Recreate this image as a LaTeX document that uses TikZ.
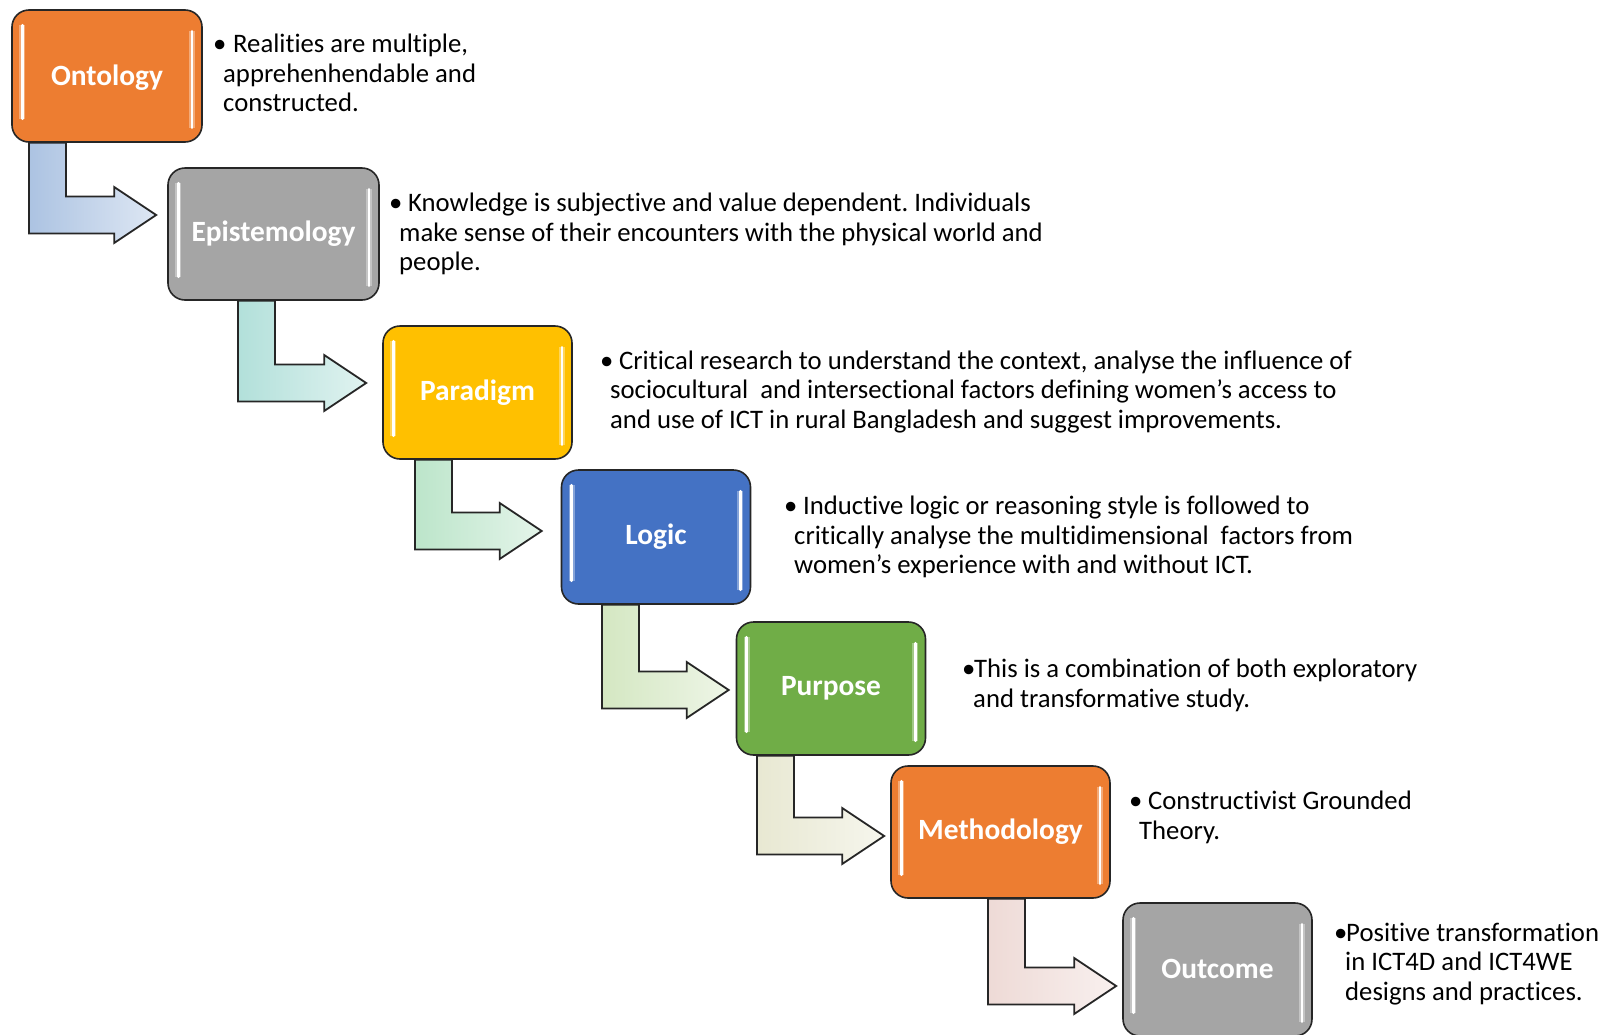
\documentclass[tikz,border=0pt]{standalone}
\usepackage{fontspec}
\setmainfont{Carlito}[Ligatures={TeX,NoCommon}]
\frenchspacing
\usetikzlibrary{calc}
\pgfdeclarelayer{bg}
\pgfsetlayers{bg,main}

\definecolor{boxorange}{HTML}{ED7D31}
\definecolor{boxgray}{HTML}{A5A5A5}
\definecolor{boxyellow}{HTML}{FFC000}
\definecolor{boxblue}{HTML}{4472C4}
\definecolor{boxgreen}{HTML}{70AD47}
\definecolor{flowA}{RGB}{172,195,226}
\definecolor{flowB}{RGB}{178,224,218}
\definecolor{flowC}{RGB}{188,229,202}
\definecolor{flowD}{RGB}{212,231,194}
\definecolor{flowE}{RGB}{232,232,210}
\definecolor{flowF}{RGB}{238,218,214}

\tikzset{
  stagebox/.style={draw=black!85, line width=1.6pt, rounded corners=17pt,
    inner sep=0pt, minimum width=189pt, minimum height=133pt, text=white,
    font=\fontsize{29.4}{34}\selectfont\bfseries},
  gloss/.style={white, line width=2.6pt, line cap=round,
    preaction={draw=white, line width=6pt, opacity=0.35}},
  flow/.style={draw=black!85, line width=1.8pt, line join=miter},
  note/.style={anchor=west, align=left, inner sep=0pt,
    font=\fontsize{26.7}{29.3}\selectfont, text=black},
}

% glassy highlight strips inside a stage box
\newcommand\shine[1]{%
  \draw[gloss] ([shift={(11,16)}]#1.north west) -- ([shift={(11,-24)}]#1.south west);
  \draw[gloss] ([shift={(-11,22)}]#1.north east) -- ([shift={(-11,-15)}]#1.south east);
}

% L-shaped arrow: source box, target box, shaft left x, bar centre y, gap before target, colour
\newcommand\stepflow[6]{%
  \coordinate (tip) at ($(#2.west |- 0,#4)+(-#5,0)$);
  \begin{pgfonlayer}{bg}
  \filldraw[flow, left color=#6, right color=#6!40!white]
    (#1.south -| #3,0) -- ++(37,0) -- (#3+37,#4-18.5)
    -- ($(tip)+(-42,-18.5)$) -- ($(tip)+(-42,-28)$) -- (tip)
    -- ($(tip)+(-42,28)$) -- ($(tip)+(-42,18.5)$)
    -- (#3,#4+18.5) -- cycle;
  \end{pgfonlayer}
}

\begin{document}
\begin{tikzpicture}[x=1pt, y=-1pt]
\useasboundingbox (0,0) rectangle (1612,1034);

% stages
\node[stagebox, fill=boxorange, minimum width=190pt, minimum height=132pt, text depth=1.5pt] (ont) at (107,76) {Ontology};
\node[stagebox, fill=boxgray, minimum width=211pt, minimum height=132pt] (epi) at (273.5,234) {Epistemology};
\node[stagebox, fill=boxyellow] (par) at (477.5,392.5) {Paradigm};
\node[stagebox, fill=boxblue, minimum height=134pt] (log) at (656,537) {Logic};
\node[stagebox, fill=boxgreen] (pur) at (831,688.5) {Purpose};
\node[stagebox, fill=boxorange, minimum width=219pt, minimum height=132pt] (met) at (1000.5,832) {Methodology};
\node[stagebox, fill=boxgray, text depth=1.5pt] (out) at (1217.5,969.5) {Outcome};

\foreach \b in {ont,epi,par,log,pur,met,out} {\shine{\b}}

% connecting arrows
\stepflow{ont}{epi}{29}{215}{11}{flowA}
\stepflow{epi}{par}{238}{383}{16}{flowB}
\stepflow{par}{log}{415}{531}{19}{flowC}
\stepflow{log}{pur}{602}{690}{7}{flowD}
\stepflow{pur}{met}{757}{836}{6}{flowE}
\stepflow{met}{out}{988}{986}{6}{flowF}

% descriptions
\node[note] (n1) at (213,73) {\makebox[20pt][l]{•}Realities are multiple,\\
  \hspace*{10pt}apprehenhendable and\\
  \hspace*{10pt}constructed.};
\node[note] (n2) at (389,234) {\makebox[19pt][l]{•}Knowledge is subjective and value dependent. Individuals\\
  \hspace*{10pt}make sense of their encounters with the physical world and\\
  \hspace*{10pt}people.};
\node[note] (n3) at (600,392) {\makebox[19pt][l]{•}Critical research to understand the context, analyse the influence of\\
  \hspace*{10pt}sociocultural\ \ and intersectional factors defining women's access to\\
  \hspace*{10pt}and use of ICT in rural Bangladesh and suggest improvements.};
\node[note] (n4) at (784,537) {\makebox[19pt][l]{•}Inductive logic or reasoning style is followed to\\
  \hspace*{10pt}critically analyse the multidimensional\ \ factors from\\
  \hspace*{10pt}women's experience with and without ICT.};
\node[note] (n5) at (962,685.5) {\makebox[12pt][l]{•}This is a combination of both exploratory\\
  \hspace*{11pt}and transformative study.};
\node[note] (n6) at (1129,817.5) {\makebox[19pt][l]{•}Constructivist Grounded\\
  \hspace*{10pt}Theory.};
\node[note] (n7) at (1334,964) {\makebox[12pt][l]{•}Positive transformation\\
  \hspace*{11pt}in ICT4D and ICT4WE\\
  \hspace*{11pt}designs and practices.};
\end{tikzpicture}
\end{document}
